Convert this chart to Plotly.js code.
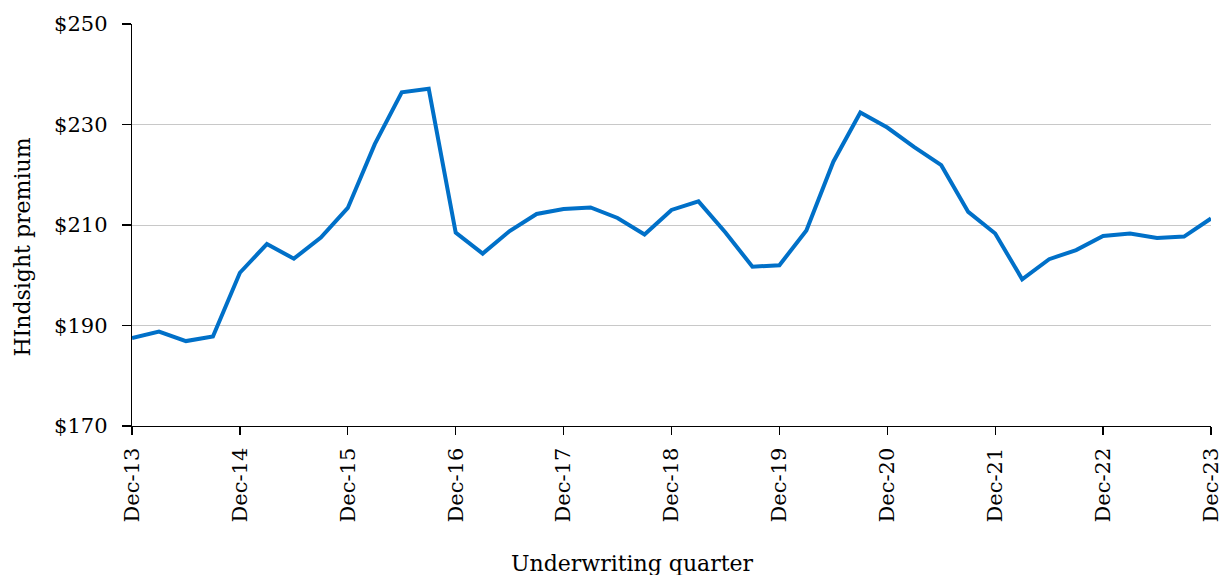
<!DOCTYPE html>
<html>
<head>
<meta charset="utf-8">
<script src="https://cdn.plot.ly/plotly-3.0.1.min.js"></script>
<style>html,body{margin:0;padding:0;background:#fff;}#chart{width:1224px;height:575px;}</style>
</head>
<body>
<div id="chart"></div>
<script>
const quarters = ["Dec-13","Mar-14","Jun-14","Sep-14","Dec-14","Mar-15","Jun-15","Sep-15","Dec-15","Mar-16","Jun-16","Sep-16","Dec-16","Mar-17","Jun-17","Sep-17","Dec-17","Mar-18","Jun-18","Sep-18","Dec-18","Mar-19","Jun-19","Sep-19","Dec-19","Mar-20","Jun-20","Sep-20","Dec-20","Mar-21","Jun-21","Sep-21","Dec-21","Mar-22","Jun-22","Sep-22","Dec-22","Mar-23","Jun-23","Sep-23","Dec-23"];
const premium = [187.5,188.8,186.9,187.8,200.5,206.2,203.3,207.5,213.4,226.1,236.4,237.1,208.5,204.3,208.8,212.2,213.2,213.5,211.4,208.1,213.0,214.7,208.5,201.7,202.0,208.9,222.6,232.4,229.4,225.5,221.9,212.6,208.3,199.2,203.2,205.0,207.8,208.3,207.4,207.7,211.3];
const tickLabels = ["Dec-13","Dec-14","Dec-15","Dec-16","Dec-17","Dec-18","Dec-19","Dec-20","Dec-21","Dec-22","Dec-23"];
const yTicks = [170,190,210,230,250];

const font = "DejaVu Serif, Liberation Serif, serif";
Plotly.newPlot("chart", [{
  x: quarters, y: premium, type: "scatter", mode: "lines",
  line: {color: "#0070C8", width: 4}, hoverinfo: "x+y"
}], {
  width: 1224, height: 575,
  margin: {l: 132, r: 13, t: 24, b: 149},
  paper_bgcolor: "#fff", plot_bgcolor: "#fff",
  showlegend: false,
  font: {family: font, size: 21, color: "#000"},
  xaxis: {
    type: "category", range: [0, quarters.length - 1],
    tickmode: "array", tickvals: tickLabels, ticktext: tickLabels,
    tickangle: -90, ticks: "outside", ticklen: 8, tickcolor: "#000", tickwidth: 1.3,
    showline: true, linecolor: "#000", linewidth: 1.3, showgrid: false, zeroline: false,
    ticklabelstandoff: 4,
    tickfont: {family: font, size: 21, color: "#000"}
  },
  yaxis: {
    range: [170, 250], tickmode: "array", tickvals: yTicks,
    ticktext: yTicks.map(v => "$" + v),
    ticks: "outside", ticklen: 9, tickcolor: "#000", tickwidth: 1.3,
    showline: true, linecolor: "#000", linewidth: 1.3,
    showgrid: true, gridcolor: "#c8c8c8", gridwidth: 1, zeroline: false,
    ticklabelstandoff: 10,
    tickfont: {family: font, size: 21, color: "#000"}
  },
  annotations: [
    {text: "Underwriting quarter", xref: "paper", yref: "paper", x: 0.464, y: -0.341,
     xanchor: "center", yanchor: "middle", showarrow: false, font: {family: font, size: 22, color: "#000"}},
    {text: "HIndsight premium", xref: "paper", yref: "paper", x: -0.1015, y: 0.445,
     xanchor: "center", yanchor: "middle", textangle: -90, showarrow: false, font: {family: font, size: 22, color: "#000"}}
  ]
}, {displayModeBar: false, staticPlot: true});
</script>
</body>
</html>
